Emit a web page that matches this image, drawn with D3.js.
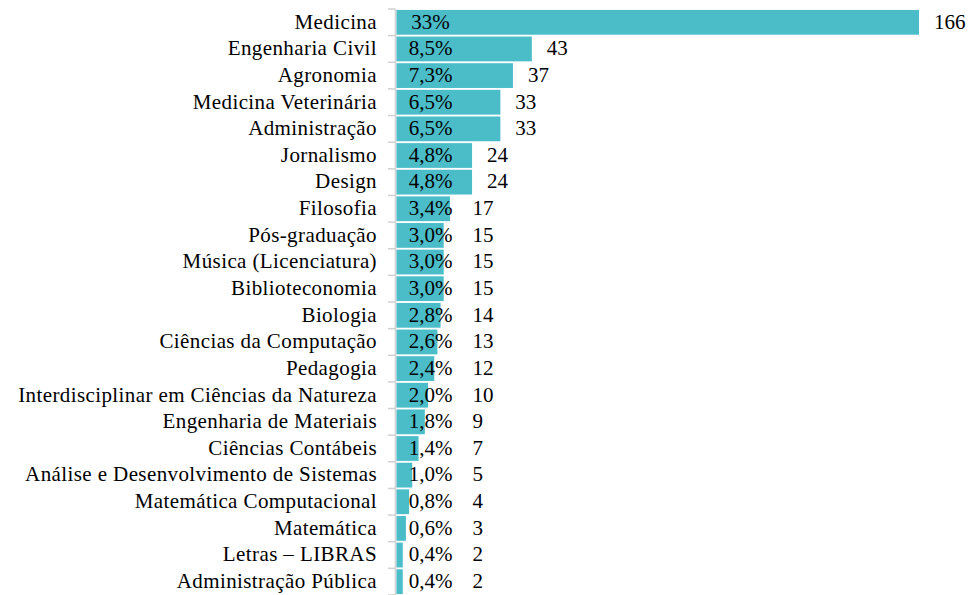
<!DOCTYPE html>
<html>
<head>
<meta charset="utf-8">
<script src="https://cdn.jsdelivr.net/npm/d3@7"></script>
</head>
<body style="margin:0; background:#fff">
<script>
var cursos = ["Medicina", "Engenharia Civil", "Agronomia", "Medicina Veterinária", "Administração",
    "Jornalismo", "Design", "Filosofia", "Pós-graduação", "Música (Licenciatura)", "Biblioteconomia",
    "Biologia", "Ciências da Computação", "Pedagogia", "Interdisciplinar em Ciências da Natureza",
    "Engenharia de Materiais", "Ciências Contábeis", "Análise e Desenvolvimento de Sistemas",
    "Matemática Computacional", "Matemática", "Letras – LIBRAS", "Administração Pública"];
var contagens = [166, 43, 37, 33, 33, 24, 24, 17, 15, 15, 15, 14, 13, 12, 10, 9, 7, 5, 4, 3, 2, 2];
var percentuais = ["33%", "8,5%", "7,3%", "6,5%", "6,5%", "4,8%", "4,8%", "3,4%", "3,0%", "3,0%",
    "3,0%", "2,8%", "2,6%", "2,4%", "2,0%", "1,8%", "1,4%", "1,0%", "0,8%", "0,6%", "0,4%", "0,4%"];

var width = 969, height = 595;
var fonte = "Liberation Serif";
var dados = cursos.map(function (c, i) {
    return { curso: c, n: contagens[i], pct: percentuais[i] };
});

var svg = d3.select("body").append("svg")
    .attr("width", width)
    .attr("height", height);

var x = d3.scaleLinear().domain([0, 166]).range([396.5, 919]);
var y = d3.scaleBand().domain(cursos).range([9, 595]).paddingInner(0.07).paddingOuter(0.035);

// eixo vertical com marcas entre categorias
var eixo = svg.append("g").attr("class", "eixo");
eixo.append("line")
    .attr("x1", 395.5).attr("x2", 395.5)
    .attr("y1", 9).attr("y2", 595)
    .attr("stroke", "#d0d0d0").attr("stroke-width", 1.5);
var passo = y.step();
eixo.selectAll("line.tick")
    .data(d3.range(cursos.length + 1))
    .enter().append("line")
    .attr("class", "tick")
    .attr("x1", 388).attr("x2", 395.5)
    .attr("y1", function (i) { return 9 + i * passo; })
    .attr("y2", function (i) { return 9 + i * passo; })
    .attr("stroke", "#d0d0d0").attr("stroke-width", 1.5);

svg.append("g")
    .selectAll("text")
    .data(dados)
    .enter().append("text")
    .attr("x", 377)
    .attr("y", function (d) { return y(d.curso) + y.bandwidth() / 2; })
    .attr("dy", "0.3em")
    .attr("text-anchor", "end")
    .attr("font-family", fonte)
    .attr("font-size", 21)
    .attr("letter-spacing", 0.4)
    .text(function (d) { return d.curso; });

svg.append("g")
    .selectAll("rect")
    .data(dados)
    .enter().append("rect")
    .attr("x", x(0))
    .attr("y", function (d) { return y(d.curso); })
    .attr("width", function (d) { return x(d.n) - x(0); })
    .attr("height", y.bandwidth())
    .attr("fill", "#4bbdc9");

svg.append("g")
    .selectAll("text")
    .data(dados)
    .enter().append("text")
    .attr("x", x(0) + 34)
    .attr("y", function (d) { return y(d.curso) + y.bandwidth() / 2; })
    .attr("dy", "0.3em")
    .attr("text-anchor", "middle")
    .attr("font-family", fonte)
    .attr("font-size", 21)
    .text(function (d) { return d.pct; });

svg.append("g")
    .selectAll("text")
    .data(dados)
    .enter().append("text")
    .attr("x", function (d) { return Math.max(x(d.n) + 15, x(0) + 76); })
    .attr("y", function (d) { return y(d.curso) + y.bandwidth() / 2; })
    .attr("dy", "0.3em")
    .attr("font-family", fonte)
    .attr("font-size", 21)
    .text(function (d) { return d.n; });
</script>
</body>
</html>
